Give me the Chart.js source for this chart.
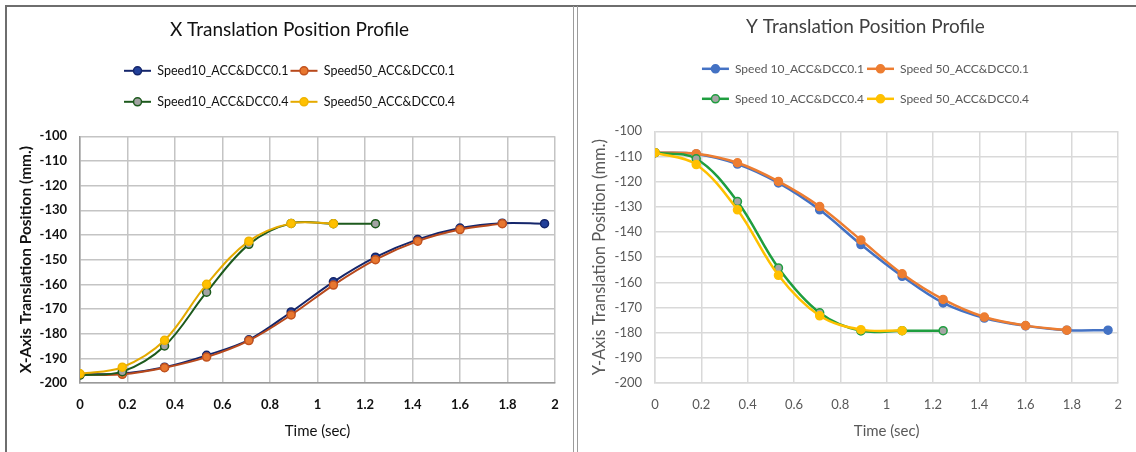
<!DOCTYPE html>
<html>
<head>
<meta charset="utf-8">
<title>Translation Position Profiles</title>
<script src="https://cdn.jsdelivr.net/npm/chart.js@4"></script>
<style>
  html, body { margin: 0; padding: 0; background: #ffffff; }
  body { width: 1136px; height: 452px; position: relative; overflow: hidden; }
  .panel { position: absolute; top: 0; height: 452px; }
  #panelX { left: 0; width: 573px; }
  #panelY { left: 578px; width: 558px; }
  .rule { position: absolute; }
  #ruleTop { left: 5px; top: 5px; width: 1131px; height: 0; border-top: 2px solid #6e6e6e; }
  #ruleLeft { left: 5px; top: 5px; width: 0; height: 447px; border-left: 2px solid #6e6e6e; }
  #ruleMidA { left: 573px; top: 6px; width: 0; height: 446px; border-left: 1px solid #9c9c9c; }
  #ruleMidB { left: 577px; top: 6px; width: 0; height: 446px; border-left: 1px solid #9c9c9c; }
</style>
</head>
<body>
<div class="panel" id="panelX"><canvas id="chartX" width="573" height="452"></canvas></div>
<div class="panel" id="panelY"><canvas id="chartY" width="558" height="452"></canvas></div>
<div class="rule" id="ruleTop"></div>
<div class="rule" id="ruleLeft"></div>
<div class="rule" id="ruleMidA"></div>
<div class="rule" id="ruleMidB"></div>
<script>
// Sample instants (s)
const timeSec = [0, 0.178, 0.356, 0.533, 0.711, 0.889, 1.067, 1.244, 1.422, 1.6, 1.778, 1.956];

// X axis position (mm.)
const xSpeed10Acc01 = [-196.5, -196.2, -193.6, -188.8, -182.5, -171.2, -159.0, -149.0, -141.8, -137.2, -135.2, -135.4];
const xSpeed50Acc01 = [-196.6, -196.5, -193.8, -189.5, -182.8, -172.4, -160.3, -150.0, -142.5, -137.8, -135.4];
const xSpeed10Acc04 = [-196.8, -195.4, -185.0, -163.2, -143.8, -135.3, -135.4, -135.4];
const xSpeed50Acc04 = [-196.3, -193.6, -182.7, -160.0, -142.5, -135.3, -135.4];

// Y axis position (mm.)
const ySpeed10Acc01 = [-108.5, -109.0, -113.0, -120.5, -131.2, -145.0, -157.6, -168.2, -174.2, -177.3, -179.0, -179.0];
const ySpeed50Acc01 = [-108.5, -108.9, -112.5, -119.9, -129.9, -143.2, -156.6, -166.8, -173.8, -177.2, -179.0];
const ySpeed10Acc04 = [-108.5, -110.9, -127.9, -154.3, -172.1, -179.3, -179.2, -179.2];
const ySpeed50Acc04 = [-108.5, -113.2, -131.2, -157.2, -173.3, -178.8, -179.2];

const xLabels = ['Speed10_ACC&DCC0.1', 'Speed50_ACC&DCC0.1', 'Speed10_ACC&DCC0.4', 'Speed50_ACC&DCC0.4'];
const yLabels = ['Speed 10_ACC&DCC0.1', 'Speed 50_ACC&DCC0.1', 'Speed 10_ACC&DCC0.4', 'Speed 50_ACC&DCC0.4'];

const toPoints = (vals) => vals.map((v, i) => ({ x: timeSec[i], y: v }));

function series(label, vals, line, fill, edge, order, width) {
  return {
    label: label,
    data: toPoints(vals),
    borderColor: line,
    backgroundColor: line,
    borderWidth: width,
    pointRadius: 4,
    pointHoverRadius: 4,
    pointBackgroundColor: fill,
    pointBorderColor: edge,
    pointBorderWidth: 1.5,
    tension: 0.35,
    order: order
  };
}

// Draws a short line with a marker in each legend slot
const legendGlyphs = {
  id: 'legendGlyphs',
  afterDraw(chart) {
    const lg = chart.legend;
    if (!lg || !lg.legendHitBoxes) return;
    const ctx = chart.ctx;
    const boxW = lg.options.labels.boxWidth;
    lg.legendItems.forEach((item, i) => {
      const hb = lg.legendHitBoxes[i];
      const ds = chart.data.datasets[item.datasetIndex];
      const cy = hb.top + hb.height / 2;
      ctx.save();
      ctx.strokeStyle = ds.borderColor;
      ctx.lineWidth = ds.borderWidth;
      ctx.beginPath();
      ctx.moveTo(hb.left, cy);
      ctx.lineTo(hb.left + boxW, cy);
      ctx.stroke();
      ctx.beginPath();
      ctx.arc(hb.left + boxW / 2, cy, ds.pointRadius, 0, Math.PI * 2);
      ctx.fillStyle = ds.pointBackgroundColor;
      ctx.fill();
      ctx.lineWidth = ds.pointBorderWidth;
      ctx.strokeStyle = ds.pointBorderColor;
      ctx.stroke();
      ctx.restore();
    });
  }
};

// Two legend entries per row, plus extra room above the plot area
const legendGap = {
  id: 'legendGap',
  beforeLayout(chart, args, opts) {
    const lg = chart.legend;
    if (lg && !lg.__gapWrapped) {
      const fit = lg.fit.bind(lg);
      lg.fit = function () {
        const full = this.maxWidth;
        if (opts.rowWidth) this.maxWidth = Math.min(full, opts.rowWidth);
        fit();
        this.maxWidth = full;
        this.height += (opts.extra || 0);
      };
      lg.__gapWrapped = true;
    }
  }
};

function buildOptions(cfg) {
  return {
    responsive: false,
    animation: false,
    layout: { padding: cfg.padding },
    plugins: {
      legendGap: { extra: cfg.legendExtra, rowWidth: 400 },
      title: {
        display: true,
        text: cfg.title,
        color: cfg.titleColor,
        font: { family: 'Lato', size: 19, weight: 'normal', lineHeight: 1.2 },
        padding: cfg.titlePadding
      },
      legend: {
        display: true,
        position: 'top',
        labels: {
          color: cfg.textColor,
          font: { family: 'Lato', size: cfg.legendSize },
          boxWidth: 27,
          boxHeight: cfg.itemHeight,
          padding: cfg.legendPadding,
          sort: (a, b) => a.datasetIndex - b.datasetIndex,
          generateLabels(chart) {
            const items = Chart.defaults.plugins.legend.labels.generateLabels(chart);
            items.forEach((it) => {
              it.fillStyle = 'rgba(0,0,0,0)';
              it.strokeStyle = 'rgba(0,0,0,0)';
              it.lineWidth = 0;
            });
            return items;
          }
        }
      },
      tooltip: { enabled: false }
    },
    scales: {
      x: {
        type: 'linear',
        min: 0,
        max: 2,
        afterFit(scale) { scale.height = cfg.xAxisHeight; },
        ticks: {
          stepSize: 0.2,
          color: cfg.textColor,
          padding: 14,
          font: { family: 'Lato', size: 13, weight: cfg.tickWeight },
          callback: (v) => String(Number(v.toFixed(1)))
        },
        grid: { color: cfg.gridColor, lineWidth: cfg.gridWidth, drawTicks: false },
        border: { color: cfg.borderColor, width: cfg.gridWidth },
        title: {
          display: true,
          text: 'Time (sec)',
          color: cfg.textColor,
          font: { family: 'Lato', size: 15, weight: 'normal', lineHeight: 1.2 }
        }
      },
      y: {
        type: 'linear',
        min: -200,
        max: -100,
        afterFit(scale) { scale.width = cfg.yAxisWidth; },
        ticks: {
          stepSize: 10,
          color: cfg.textColor,
          padding: 13,
          font: { family: 'Lato', size: 13, weight: cfg.tickWeight }
        },
        grid: { color: cfg.gridColor, lineWidth: cfg.gridWidth, drawTicks: false },
        border: { color: cfg.borderColor, width: cfg.gridWidth },
        title: {
          display: true,
          text: cfg.yTitle,
          color: cfg.textColor,
          padding: { top: cfg.yTitleInset, bottom: 0 },
          font: { family: 'Lato', size: cfg.yTitleSize, weight: cfg.yTitleWeight, lineHeight: 1.2 }
        }
      }
    }
  };
}

new Chart(document.getElementById('chartX'), {
  type: 'line',
  data: {
    datasets: [
      series(xLabels[0], xSpeed10Acc01, '#15266b', '#22409a', '#15266b', 4, 2),
      series(xLabels[1], xSpeed50Acc01, '#b8491c', '#e8772f', '#c2531f', 3, 2),
      series(xLabels[2], xSpeed10Acc04, '#1d5a1d', '#a3a3a3', '#1d5a1d', 2, 2),
      series(xLabels[3], xSpeed50Acc04, '#e5aa00', '#ffc000', '#f0b400', 1, 2)
    ]
  },
  options: buildOptions({
    padding: { top: 8, left: 24, right: 18, bottom: 8 },
    title: 'X Translation Position Profile',
    titleColor: '#111111',
    titlePadding: { top: 10, bottom: 13.5 },
    legendExtra: 10,
    legendSize: 12.5,
    itemHeight: 29,
    legendPadding: 2,
    textColor: '#111111',
    tickWeight: 'bold',
    gridColor: '#c4c4c4',
    borderColor: '#9a9a9a',
    gridWidth: 1.5,
    xAxisHeight: 61,
    yAxisWidth: 56,
    yTitle: 'X-Axis Translation Position (mm.)',
    yTitleSize: 15.5,
    yTitleWeight: 'bold',
    yTitleInset: -7.3
  }),
  plugins: [legendGap, legendGlyphs]
});

new Chart(document.getElementById('chartY'), {
  type: 'line',
  data: {
    datasets: [
      series(yLabels[0], ySpeed10Acc01, '#4472c4', '#4472c4', '#4472c4', 4, 2.5),
      series(yLabels[1], ySpeed50Acc01, '#ed7d31', '#ed7d31', '#ed7d31', 3, 2.5),
      series(yLabels[2], ySpeed10Acc04, '#1f9e3f', '#a5a5a5', '#1f9e3f', 2, 2.5),
      series(yLabels[3], ySpeed50Acc04, '#ffc000', '#ffc000', '#ffc000', 1, 2.5)
    ]
  },
  options: buildOptions({
    padding: { top: 6, left: 23, right: 6, bottom: 8 },
    title: 'Y Translation Position Profile',
    titleColor: '#404040',
    titlePadding: { top: 9, bottom: 14.5 },
    legendExtra: 9,
    legendSize: 12,
    itemHeight: 27,
    legendPadding: 3,
    textColor: '#595959',
    tickWeight: 'normal',
    gridColor: '#d9d9d9',
    borderColor: '#d9d9d9',
    gridWidth: 1.5,
    xAxisHeight: 61,
    yAxisWidth: 54,
    yTitle: 'Y-Axis Translation Position (mm.)',
    yTitleSize: 16.5,
    yTitleWeight: 'normal',
    yTitleInset: -10.9
  }),
  plugins: [legendGap, legendGlyphs]
});
</script>
</body>
</html>
